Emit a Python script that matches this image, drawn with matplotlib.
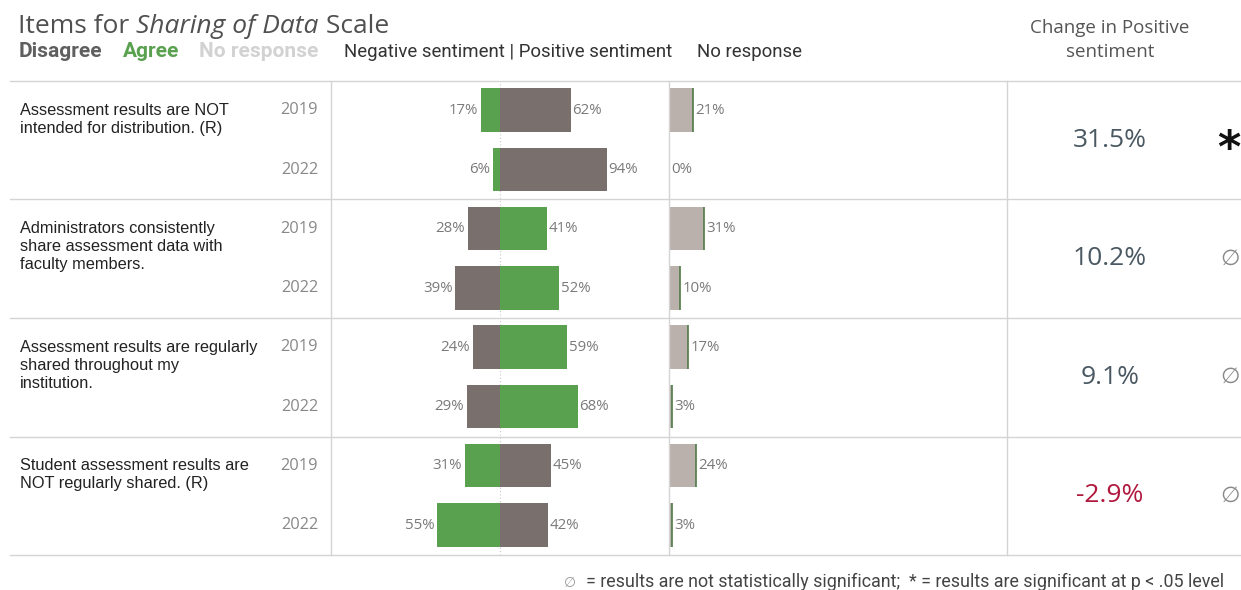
import matplotlib
matplotlib.use("Agg")
import matplotlib.pyplot as plt
from matplotlib.transforms import blended_transform_factory

# ---------------- data ----------------
items = [
    "Assessment results are NOT\nintended for distribution. (R)",
    "Administrators consistently\nshare assessment data with\nfaculty members.",
    "Assessment results are regularly\nshared throughout my\ninstitution.",
    "Student assessment results are\nNOT regularly shared. (R)",
]
reverse_coded = [True, False, False, True]
years = ["2019", "2022"]
agree_2019 = [17, 41, 59, 31]
agree_2022 = [6, 52, 68, 55]
disagree_2019 = [62, 28, 24, 45]
disagree_2022 = [94, 39, 29, 42]
noresp_2019 = [21, 31, 17, 24]
noresp_2022 = [0, 10, 3, 3]
change_positive = [31.5, 10.2, 9.1, -2.9]
significant = [True, False, False, False]

agree = [agree_2019, agree_2022]
disagree = [disagree_2019, disagree_2022]
noresp = [noresp_2019, noresp_2022]

# ---------------- style ----------------
NARROW = "Roboto"
BASE = "Liberation Sans"
WIDE = "Open Sans"
GREEN = "#59A14F"
GRAY = "#79706E"
LIGHT = "#BAB0AC"
LINE = "#d4d4d4"
LABEL = "#7a7a7a"

W, H = 1241, 590
fig = plt.figure(figsize=(W / 100, H / 100), dpi=100)
fig.patch.set_facecolor("white")


def fx(px):
    return px / W


def fy(py):
    return 1 - py / H


TOP, BOT = 81, 555
ax = fig.add_axes([fx(331), fy(BOT), fx(669 - 331), (BOT - TOP) / H])
axn = fig.add_axes([fx(669), fy(BOT), fx(1007 - 669), (BOT - TOP) / H])
for a in (ax, axn):
    a.set_ylim(4, 0)
    a.axis("off")
ax.set_xlim(-148, 148)
axn.set_xlim(0, 296)

bar_h = 0.37
offsets = [0.245, 0.747]

ax.axvline(0, color="#c8c8c8", lw=0.8, ls=(0, (1, 2)), zorder=0)

for i in range(len(items)):
    for j in range(2):
        y = i + offsets[j]
        a_v = agree[j][i]
        d_v = disagree[j][i]
        if reverse_coded[i]:
            neg_v, neg_c, pos_v, pos_c = a_v, GREEN, d_v, GRAY
        else:
            neg_v, neg_c, pos_v, pos_c = d_v, GRAY, a_v, GREEN
        ax.barh(y, -neg_v, height=bar_h, color=neg_c, left=0, zorder=2)
        ax.barh(y, pos_v, height=bar_h, color=pos_c, left=0, zorder=2)
        ax.annotate(f"{neg_v}%", (-neg_v, y), xytext=(-2, 0), textcoords="offset points",
                    ha="right", va="center", fontsize=10.8, color=LABEL, family=WIDE)
        ax.annotate(f"{pos_v}%", (pos_v, y), xytext=(1, 0), textcoords="offset points",
                    ha="left", va="center", fontsize=10.8, color=LABEL, family=WIDE)
        n_v = noresp[j][i]
        axn.barh(y, n_v, height=bar_h, color=LIGHT, left=0, zorder=2)
        if n_v > 0:
            axn.vlines(n_v, y - bar_h / 2, y + bar_h / 2, color="#4f7a46", lw=1.2, zorder=3)
        axn.annotate(f"{n_v}%", (n_v, y), xytext=(1.5, 0), textcoords="offset points",
                     ha="left", va="center", fontsize=10.8, color=LABEL, family=WIDE)

# text transforms (x in figure pixels, y in data rows)
tr = blended_transform_factory(fig.transFigure, ax.transData)
for i, lab in enumerate(items):
    ax.text(fx(20), i + 0.185, lab, transform=tr, ha="left", va="top", fontsize=11.8,
            color="#222222", family=BASE, linespacing=1.25, clip_on=False)
    for j in range(2):
        ax.text(fx(318), i + offsets[j], years[j], transform=tr, ha="right", va="center",
                fontsize=11.8, color="#888888", family=WIDE, clip_on=False)
    val = change_positive[i]
    ax.text(fx(1110), i + 0.5, f"{val:.1f}%", transform=tr, ha="center", va="center",
            fontsize=19, color="#b0183d" if val < 0 else "#4a5862", family=WIDE, clip_on=False)
    if significant[i]:
        ax.annotate("*", (fx(1229), i + 0.5), xycoords=tr, xytext=(0, -7),
                    textcoords="offset points", ha="center", va="center",
                    fontsize=32, color="#111111", family="DejaVu Sans", weight="bold",
                    annotation_clip=False)
    else:
        ax.text(fx(1230), i + 0.5, "\u2205", transform=tr, ha="center", va="center",
                fontsize=16, color="#888888", family="DejaVu Sans", clip_on=False)

# grid lines
for k in range(5):
    yy = TOP + (BOT - TOP) * k / 4
    fig.add_artist(plt.Line2D([fx(10), 1], [fy(yy), fy(yy)], color=LINE, lw=1.0))
for xx in (331, 669, 1007):
    fig.add_artist(plt.Line2D([fx(xx), fx(xx)], [fy(TOP), fy(BOT)], color=LINE, lw=1.0))

# ---------------- header ----------------
renderer = fig.canvas.get_renderer()


def seq_text(x0, y, parts, **kw):
    x = x0
    for txt, props in parts:
        p = dict(kw)
        p.update(props)
        t = fig.text(fx(x), fy(y), txt, ha="left", va="baseline", **p)
        bb = t.get_window_extent(renderer)
        x += bb.width
    return x


seq_text(18, 33, [("Items for ", {}), ("Sharing of Data", {"style": "italic"}), (" Scale", {})],
         fontsize=19, color="#505050", family=WIDE)

fig.text(fx(19), fy(57), "Disagree", ha="left", va="baseline", fontsize=15,
         weight="bold", color="#5f5f5f", family=NARROW)
fig.text(fx(123), fy(57), "Agree", ha="left", va="baseline", fontsize=15,
         weight="bold", color=GREEN, family=NARROW)
fig.text(fx(199), fy(57), "No response", ha="left", va="baseline", fontsize=15,
         weight="bold", color="#d2d2d2", family=NARROW)
fig.text(fx(344), fy(57), "Negative sentiment | Positive sentiment", ha="left", va="baseline",
         fontsize=13.4, color="#333333", family=NARROW)
fig.text(fx(697), fy(57), "No response", ha="left", va="baseline",
         fontsize=13.4, color="#333333", family=NARROW)

fig.text(fx(1110), fy(28), "Change in Positive", ha="center", va="center",
         fontsize=13.5, color="#555555", family=WIDE)
fig.text(fx(1110), fy(52), "sentiment", ha="center", va="center",
         fontsize=13.5, color="#555555", family=WIDE)

# ---------------- footer ----------------
fig.text(fx(570), fy(583), "\u2205", ha="center", va="center", fontsize=10,
         color="#999999", family="DejaVu Sans")
fig.text(fx(586), fy(582), "= results are not statistically significant;  * = results are significant at p < .05 level",
         ha="left", va="center", fontsize=12.9, color="#444444", family=NARROW)

fig.savefig("out.png", dpi=100, facecolor="white")
